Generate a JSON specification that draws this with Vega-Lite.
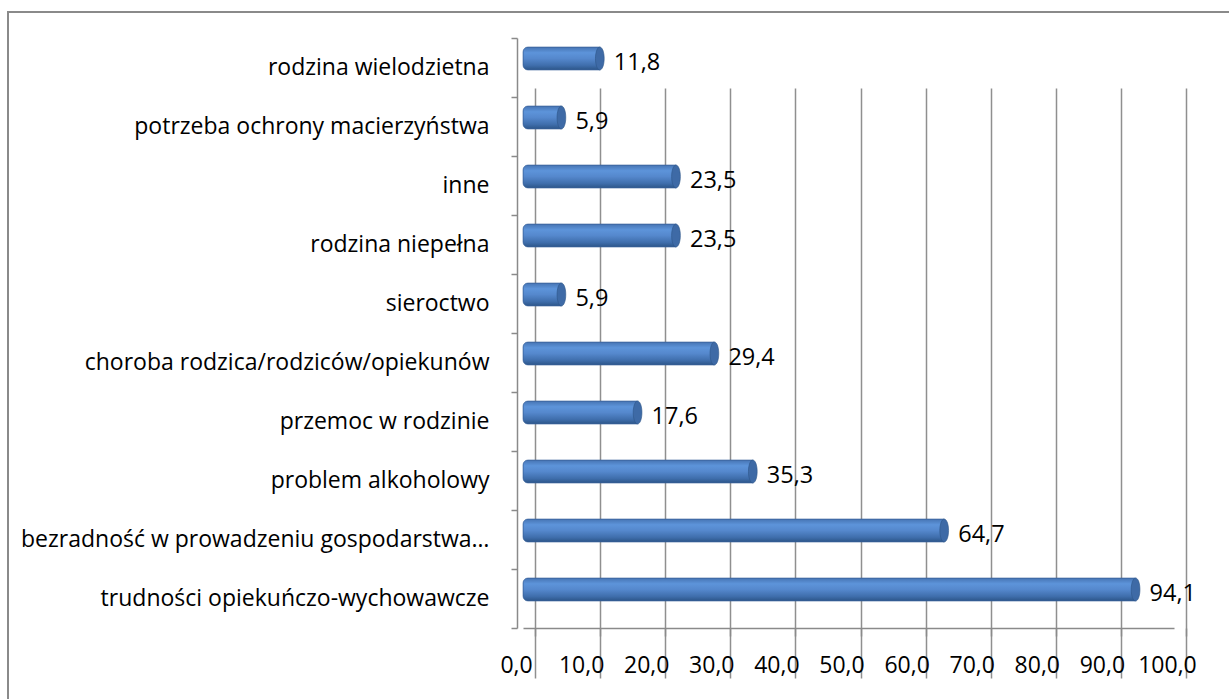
{
  "$schema": "https://vega.github.io/schema/vega-lite/v6.json",
  "autosize": {"type": "none"},
  "width": 1226,
  "height": 692,
  "padding": {"left": 8, "top": 12, "right": 0, "bottom": 0},
  "background": "#ffffff",
  "config": {
    "locale": {"number": {"decimal": ",", "thousands": "\u00a0", "grouping": [3], "currency": ["", " zł"]}},
    "view": {"stroke": "#8a8a8a", "strokeWidth": 2},
    "font": "Open Sans"
  },
  "data": {"values": [
    {"kategoria": "rodzina wielodzietna", "procent": 11.8},
    {"kategoria": "potrzeba ochrony macierzyństwa", "procent": 5.9},
    {"kategoria": "inne", "procent": 23.5},
    {"kategoria": "rodzina niepełna", "procent": 23.5},
    {"kategoria": "sieroctwo", "procent": 5.9},
    {"kategoria": "choroba rodzica/rodziców/opiekunów", "procent": 29.4},
    {"kategoria": "przemoc w rodzinie", "procent": 17.6},
    {"kategoria": "problem alkoholowy", "procent": 35.3},
    {"kategoria": "bezradność w prowadzeniu gospodarstwa…", "procent": 64.7},
    {"kategoria": "trudności opiekuńczo-wychowawcze", "procent": 94.1}
  ]},
  "encoding": {
    "y": {
      "field": "kategoria", "type": "nominal", "sort": null,
      "scale": {"range": [26, 616], "paddingInner": 0, "paddingOuter": 0}
    },
    "x": {
      "field": "procent", "type": "quantitative",
      "scale": {"domain": [0, 100], "range": [515, 1166], "nice": false, "zero": false}
    }
  },
  "layer": [
    {
      "mark": {
        "type": "bar", "size": 23, "yOffset": -9,
        "cornerRadiusTopLeft": 5, "cornerRadiusBottomLeft": 5,
        "stroke": "#3a639c", "strokeWidth": 0.6,
        "color": {
          "gradient": "linear", "x1": 0, "y1": 0, "x2": 0, "y2": 1,
          "stops": [
            {"offset": 0, "color": "#4674b3"},
            {"offset": 0.25, "color": "#5d94da"},
            {"offset": 0.5, "color": "#5588cd"},
            {"offset": 0.8, "color": "#3f6eac"},
            {"offset": 1, "color": "#2c5588"}
          ]
        }
      },
      "encoding": {
        "y": {
          "field": "kategoria", "type": "nominal", "sort": null,
          "axis": {
            "title": null, "orient": "left", "offset": -509,
            "tickBand": "extent", "tickSize": 6, "tickColor": "#8a8a8a",
            "domainColor": "#8a8a8a", "domainWidth": 1.5, "tickWidth": 1.5,
            "labelPadding": 22, "labelFontSize": 23, "labelFont": "Open Sans",
            "labelColor": "#000000", "labelLimit": 600, "grid": false
          }
        },
        "x": {
          "field": "procent", "type": "quantitative",
          "axis": {
            "title": null, "orient": "bottom", "offset": -76,
            "values": [0, 10, 20, 30, 40, 50, 60, 70, 80, 90, 100],
            "format": ".1f", "grid": true, "gridColor": "#8f8f8f", "gridWidth": 1.5,
            "tickOffset": 12, "labelOffset": -19,
            "tickSize": 8, "tickColor": "#8a8a8a", "tickWidth": 1.5,
            "domainColor": "#8a8a8a", "domainWidth": 1.5,
            "labelPadding": 18, "labelFontSize": 23, "labelFont": "Open Sans",
            "labelColor": "#000000", "labelFlush": false, "labelOverlap": false
          }
        }
      }
    },
    {
      "mark": {
        "type": "point", "filled": true, "yOffset": -9, "size": 529,
        "shape": "M0,-1A0.38,1 0 1,1 0,1A0.38,1 0 1,1 0,-1Z",
        "fill": "#3e6aa6", "stroke": "#2e5588", "strokeWidth": 0.6, "opacity": 1
      }
    },
    {
      "mark": {
        "type": "text", "align": "left", "baseline": "middle", "dx": 14, "yOffset": -5,
        "fontSize": 23.5, "font": "Open Sans", "color": "#000000"
      },
      "encoding": {
        "text": {"field": "procent", "type": "quantitative", "format": ".1f"}
      }
    }
  ]
}
